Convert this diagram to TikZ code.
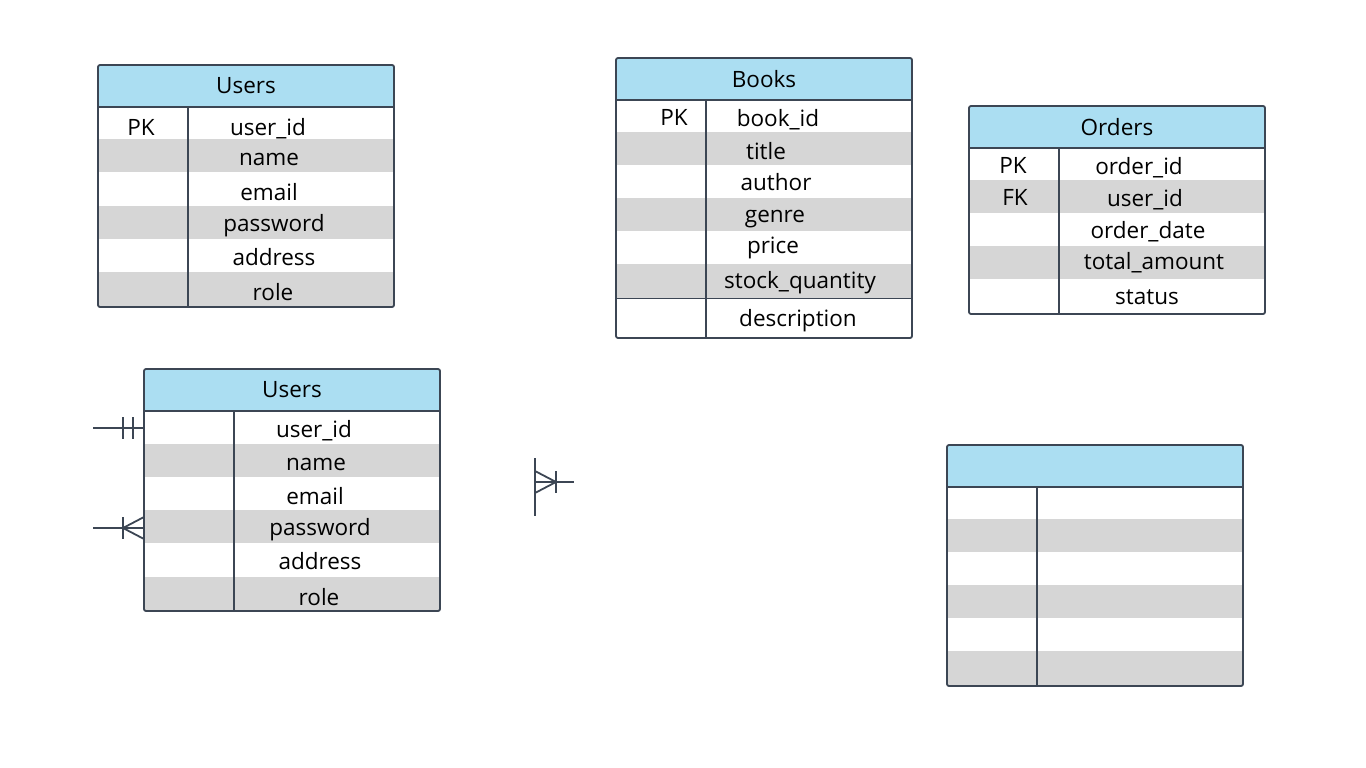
\documentclass[tikz,border=0pt]{standalone}
\usepackage{fontspec}
\setmainfont{Open Sans}
\usepackage{tikz}
\usetikzlibrary{calc}
\usetikzlibrary{positioning}

\definecolor{headblue}{RGB}{171,222,242}
\definecolor{rowgray}{RGB}{214,214,214}
\definecolor{slate}{RGB}{60,70,84}

\begin{document}
\begin{tikzpicture}
[
	x = 1pt, y = -1pt,
	head/.style	= {fill = headblue, rounded corners = 2pt, minimum width = 296pt, minimum height = 42pt, anchor = north west, inner sep = 0pt, outer sep = 0pt, font = \fontsize{22.5}{26}\selectfont},
	stripe/.style	= {fill = rowgray, minimum width = 296pt, minimum height = 33pt, anchor = north west, inner sep = 0pt, outer sep = 0pt},
	field/.style	= {anchor = base, inner sep = 0pt, font = \fontsize{22.5}{26}\selectfont},
	frame/.style	= {draw = slate, line width = 1.8pt, rounded corners = 2pt, minimum width = 296pt, anchor = north west, inner sep = 0pt, outer sep = 0pt},
	rule/.style	= {draw = slate, line width = 1.8pt},
	thinrule/.style	= {draw = slate, line width = 1pt},
]

	\useasboundingbox [fill = white] (0,0) rectangle (1366,768);

	% Users (top)
	\node (usersHead) [head] at (98,65) {Users};
	\node (usersS2) [stripe] at (98,139) {};
	\node (usersS4) [stripe] at (98,205.5) {};
	\node (usersS6) [stripe, minimum height = 35pt] at (98,272) {};
	\node (usersK1) [field] at (141,135) {PK};
	\node (usersF1) [field] at (268,135) {user\_id};
	\node (usersF2) [field] at (269,165) {name};
	\node (usersF3) [field] at (269,200.5) {email};
	\node (usersF4) [field] at (274,231.5) {password};
	\node (usersF5) [field] at (274,265.5) {address};
	\node (usersF6) [field] at (273,300.5) {role};
	\node (users) [frame, minimum height = 242pt] at (98,65) {};
	\draw [rule] (usersHead.south west) -- (usersHead.south east);
	\draw [rule] ($(usersHead.south west)+(90,0)$) -- ($(users.south west)+(90,0)$);

	% Books
	\node (booksHead) [head] at (616,58) {Books};
	\node (booksS2) [stripe] at (616,132) {};
	\node (booksS4) [stripe] at (616,198) {};
	\node (booksS6) [stripe, minimum height = 34pt] at (616,264) {};
	\node (booksK1) [field] at (674,125) {PK};
	\node (booksF1) [field] at (778,126.5) {book\_id};
	\node (booksF2) [field] at (766,159.5) {title};
	\node (booksF3) [field] at (776,190) {author};
	\node (booksF4) [field] at (775,222) {genre};
	\node (booksF5) [field] at (773,253.5) {price};
	\node (booksF6) [field] at (800,288.5) {stock\_quantity};
	\node (booksF7) [field] at (798,326.5) {description};
	\node (books) [frame, minimum height = 280pt] at (616,58) {};
	\draw [rule] (booksHead.south west) -- (booksHead.south east);
	\draw [thinrule] (booksS6.south west) -- (booksS6.south east);
	\draw [rule] ($(booksHead.south west)+(90,0)$) -- ($(books.south west)+(90,0)$);

	% Orders
	\node (ordersHead) [head] at (969,106) {Orders};
	\node (ordersS2) [stripe] at (969,180) {};
	\node (ordersS4) [stripe] at (969,246) {};
	\node (ordersK1) [field] at (1013,173) {PK};
	\node (ordersK2) [field] at (1015,205.5) {FK};
	\node (ordersF1) [field] at (1139,174) {order\_id};
	\node (ordersF2) [field] at (1145,206.5) {user\_id};
	\node (ordersF3) [field] at (1148,238) {order\_date};
	\node (ordersF4) [field] at (1154,269.5) {total\_amount};
	\node (ordersF5) [field] at (1147,304.5) {status};
	\node (orders) [frame, minimum height = 208pt] at (969,106) {};
	\draw [rule] (ordersHead.south west) -- (ordersHead.south east);
	\draw [rule] ($(ordersHead.south west)+(90,0)$) -- ($(orders.south west)+(90,0)$);

	% Users (bottom)
	\node (membersHead) [head] at (144,369) {Users};
	\node (membersS2) [stripe] at (144,444) {};
	\node (membersS4) [stripe] at (144,510) {};
	\node (membersS6) [stripe, minimum height = 34pt] at (144,577) {};
	\node (membersF1) [field] at (314,437.5) {user\_id};
	\node (membersF2) [field] at (316,470) {name};
	\node (membersF3) [field] at (315,504.5) {email};
	\node (membersF4) [field] at (320,535) {password};
	\node (membersF5) [field] at (320,569.5) {address};
	\node (membersF6) [field] at (319,605.5) {role};
	\node (members) [frame, minimum height = 242pt] at (144,369) {};
	\draw [rule] (membersHead.south west) -- (membersHead.south east);
	\draw [rule] ($(membersHead.south west)+(90,0)$) -- ($(members.south west)+(90,0)$);

	% empty table
	\node (blankHead) [head] at (947,445) {};
	\node (blankS2) [stripe] at (947,519) {};
	\node (blankS4) [stripe] at (947,585) {};
	\node (blankS6) [stripe, minimum height = 35pt] at (947,651) {};
	\node (blank) [frame, minimum height = 241pt] at (947,445) {};
	\draw [rule] (blankHead.south west) -- (blankHead.south east);
	\draw [rule] ($(blankHead.south west)+(90,0)$) -- ($(blank.south west)+(90,0)$);

	% relationship ends
	\coordinate (oneEnd) at (93,428);
	\coordinate (manyEnd) at (93,528);
	\coordinate (loneEnd) at (574,482);
	\coordinate (loneBar) at (535,482);

	% one and only one
	\draw [rule] (oneEnd) -- (oneEnd -| members.west);
	\draw [rule] ($(oneEnd)+(30,-11)$) -- ++(0,22);
	\draw [rule] ($(oneEnd)+(40,-11)$) -- ++(0,22);

	% one or many
	\draw [rule] (manyEnd) -- (manyEnd -| members.west);
	\draw [rule] ($(manyEnd)+(30,-11)$) -- ++(0,22);
	\draw [rule] ($(manyEnd -| members.west)+(0,-11)$) -- ($(manyEnd)+(30,0)$) -- ($(manyEnd -| members.west)+(0,11)$);

	% loose one or many
	\draw [rule] ($(loneBar)+(0,-24)$) -- ($(loneBar)+(0,34)$);
	\draw [rule] (loneBar) -- (loneEnd);
	\draw [rule] ($(loneBar)+(21,-11)$) -- ++(0,22);
	\draw [rule] ($(loneBar)+(0,-11)$) -- ($(loneBar)+(21,0)$) -- ($(loneBar)+(0,11)$);

\end{tikzpicture}
\end{document}
